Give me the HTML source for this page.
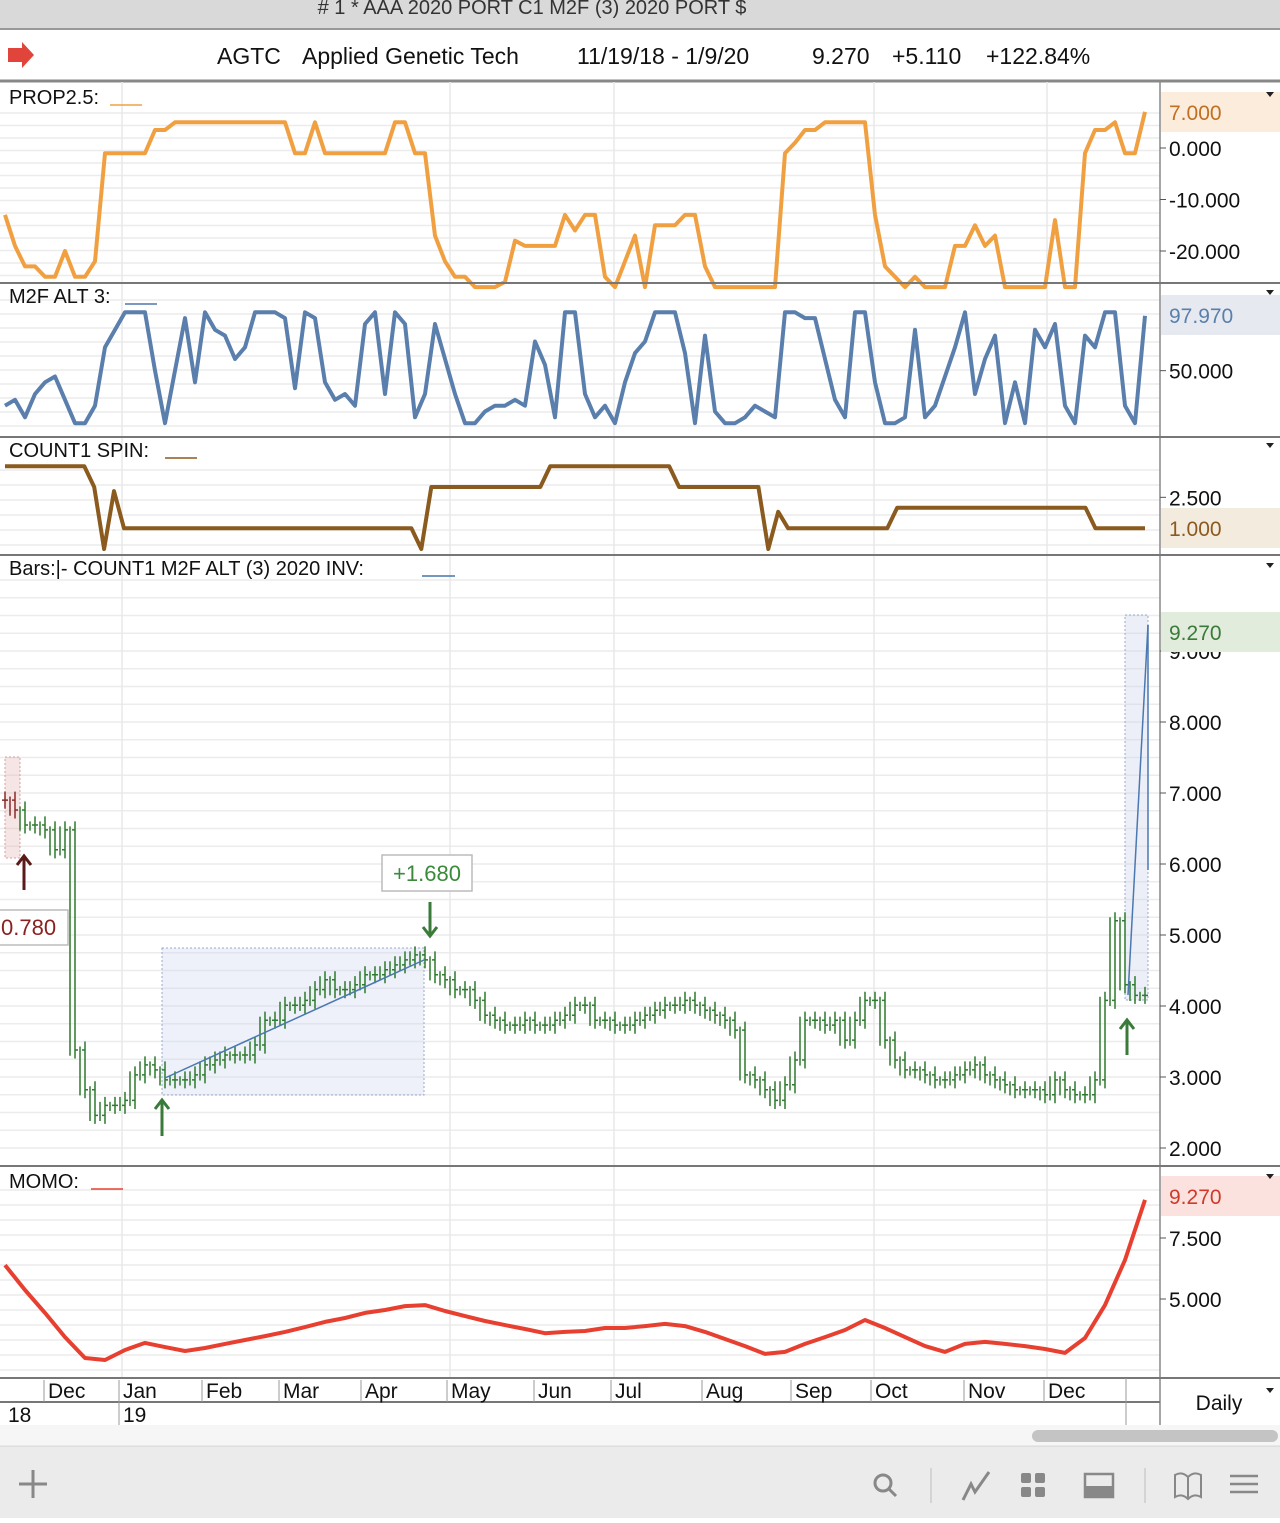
<!DOCTYPE html>
<html><head><meta charset="utf-8">
<style>
body{margin:0;width:1280px;height:1518px;overflow:hidden;background:#fff;font-family:"Liberation Sans",sans-serif;}
svg text{font-family:"Liberation Sans",sans-serif;}
</style></head>
<body>
<svg id="c" width="1280" height="1518" xmlns="http://www.w3.org/2000/svg">
<rect x="0" y="0" width="1280" height="28" fill="#d9d9d9"/>
<text x="532" y="14" font-size="20" text-anchor="middle" fill="#333"># 1 * AAA 2020 PORT C1 M2F (3) 2020 PORT $</text>
<line x1="0" y1="29" x2="1280" y2="29" stroke="#999" stroke-width="2"/>
<path d="M8 48 h14 v-6 l12 13 l-12 13 v-6 h-14z" fill="#e0443a"/>
<g font-size="23" fill="#111">
<text x="217" y="64">AGTC</text><text x="302" y="64">Applied Genetic Tech</text>
<text x="577" y="64">11/19/18 - 1/9/20</text><text x="812" y="64">9.270</text>
<text x="892" y="64">+5.110</text><text x="986" y="64">+122.84%</text></g>
<line x1="0" y1="81" x2="1280" y2="81" stroke="#888" stroke-width="3"/>
<g id="grid"></g>
<g id="marks"></g>
<line x1="1160" y1="82" x2="1160" y2="1425" stroke="#888" stroke-width="1.5"/>
<g id="panels-borders" stroke="#777" stroke-width="2">
<line x1="0" y1="283" x2="1280" y2="283"/><line x1="0" y1="437" x2="1280" y2="437"/>
<line x1="0" y1="555" x2="1280" y2="555"/><line x1="0" y1="1166" x2="1280" y2="1166"/>
<line x1="0" y1="1378" x2="1280" y2="1378"/><line x1="0" y1="1402" x2="1160" y2="1402"/>
</g>
<g font-size="20" fill="#111">
<text x="9" y="104">PROP2.5:</text>
<line x1="110" y1="105" x2="142" y2="105" stroke="#f0a040" stroke-width="1.5"/>
<text x="9" y="303">M2F ALT 3:</text>
<line x1="125" y1="304" x2="157" y2="304" stroke="#5577aa" stroke-width="1.5"/>
<text x="9" y="457">COUNT1 SPIN:</text>
<line x1="165" y1="458" x2="197" y2="458" stroke="#8b5a1e" stroke-width="1.5"/>
<text x="9" y="575">Bars:|-   COUNT1 M2F ALT (3) 2020 INV:</text>
<line x1="422" y1="576" x2="455" y2="576" stroke="#4477aa" stroke-width="1.5"/>
<text x="9" y="1188">MOMO:</text>
<line x1="91" y1="1189" x2="123" y2="1189" stroke="#e84030" stroke-width="1.5"/>
</g>
<g id="axes"></g>
<rect x="0" y="1425" width="1280" height="20" fill="#f6f6f6"/>
<rect x="1032" y="1430" width="246" height="12" rx="6" fill="#c4c4c4"/>
<rect x="0" y="1446" width="1280" height="72" fill="#ebebeb"/>
<line x1="0" y1="1446" x2="1280" y2="1446" stroke="#d0d0d0"/>
<g stroke="#888" stroke-width="3" fill="none">
<path d="M33 1470 v28 M19 1484 h28"/>
<circle cx="883" cy="1483" r="8"/><path d="M889 1489 l7 7"/>
<path d="M963 1500 l8 -16 l4 8 l14 -20"/>
<rect x="1085" y="1474" width="28" height="23" stroke-width="2.5"/>
<path d="M1175 1475 q7 -4 13 2 q6 -6 13 -2 v22 q-7 -4 -13 2 q-6 -6 -13 -2z M1188 1477 v22" stroke-width="2"/>
<path d="M1230 1476 h28 M1230 1484 h28 M1230 1492 h28" stroke-width="2.5"/>
</g>
<rect x="1086" y="1486" width="26" height="10" fill="#888"/>
<g fill="#888"><rect x="1021" y="1473" width="10" height="10" rx="2"/><rect x="1035" y="1473" width="10" height="10" rx="2"/><rect x="1021" y="1487" width="10" height="10" rx="2"/><rect x="1035" y="1487" width="10" height="10" rx="2"/></g>
<g stroke="#ccc" stroke-width="1.5"><line x1="931" y1="1468" x2="931" y2="1503"/><line x1="1145" y1="1468" x2="1145" y2="1503"/></g>
<text x="1219" y="1410" font-size="21" text-anchor="middle" fill="#111">Daily</text>
</svg>
<script>
const NS="http://www.w3.org/2000/svg";
// ---- data ----
const propVals=[-13,-19,-23,-23,-25,-25,-20,-25,-25,-22,-1,-1,-1,-1,-1,3.5,3.5,5,5,5,5,5,5,5,5,5,5,5,5,-1,-1,5,-1,-1,-1,-1,-1,-1,-1,5,5,-1,-1,-17,-22,-25,-25,-27,-27,-27,-26,-18,-19,-19,-19,-19,-13,-16,-13,-13,-25,-27,-22,-17,-27,-15,-15,-15,-13,-13,-23,-27,-27,-27,-27,-27,-27,-27,-1,1,3.5,3.5,5,5,5,5,5,-13,-23,-25,-27,-25,-27,-27,-27,-19,-19,-15,-19,-17,-27,-27,-27,-27,-27,-14,-27,-27,-1,3.5,3.5,5,-1,-1,7];
const m2fVals=[20,25,10,30,40,45,25,5,5,20,70,85,100,100,100,50,5,50,95,40,100,85,80,60,70,100,100,100,95,35,100,95,40,25,30,20,90,100,30,100,90,10,30,90,60,30,5,5,15,20,20,25,20,75,55,10,100,100,30,10,20,5,40,65,75,100,100,100,65,5,80,15,5,5,10,20,15,10,100,100,95,95,60,25,10,100,100,40,5,5,10,85,10,20,45,70,100,30,60,80,5,40,5,85,70,90,20,5,80,70,100,100,20,5,97];
const spinVals=[4,4,4,4,4,4,4,4,4,3,0,2.8,1,1,1,1,1,1,1,1,1,1,1,1,1,1,1,1,1,1,1,1,1,1,1,1,1,1,1,1,1,1,0,3,3,3,3,3,3,3,3,3,3,3,3,4,4,4,4,4,4,4,4,4,4,4,4,4,3,3,3,3,3,3,3,3,3,0,1.8,1,1,1,1,1,1,1,1,1,1,1,2,2,2,2,2,2,2,2,2,2,2,2,2,2,2,2,2,2,2,2,1,1,1,1,1,1];
const priceVals=[6.9,6.76,6.55,6.55,6.48,6.2,6.48,3.38,2.82,2.46,2.6,2.6,2.67,3.03,3.17,3.1,2.96,2.96,2.96,3.03,3.17,3.24,3.31,3.31,3.31,3.45,3.8,3.8,4.01,4.01,4.08,4.23,4.37,4.23,4.23,4.3,4.44,4.44,4.51,4.58,4.65,4.72,4.65,4.44,4.37,4.23,4.23,4.08,3.87,3.8,3.73,3.73,3.8,3.73,3.73,3.8,3.87,4.01,4.01,3.8,3.8,3.73,3.73,3.8,3.87,3.94,4.01,4.01,4.08,4.01,3.94,3.87,3.8,3.66,3.03,2.96,2.82,2.67,2.89,3.24,3.8,3.8,3.73,3.8,3.52,3.8,4.08,4.08,3.52,3.24,3.1,3.1,3.03,2.96,2.96,3.03,3.1,3.17,3.03,2.96,2.89,2.82,2.82,2.82,2.75,2.96,2.82,2.75,2.75,2.96,4.08,5.2,4.3,4.15,4.15];
const momoVals=[6.39,5.37,4.43,3.44,2.58,2.5,2.91,3.2,3.03,2.87,2.99,3.16,3.32,3.48,3.65,3.85,4.06,4.22,4.43,4.55,4.71,4.75,4.51,4.3,4.1,3.93,3.77,3.6,3.65,3.69,3.81,3.81,3.89,3.98,3.89,3.65,3.36,3.07,2.75,2.83,3.16,3.44,3.73,4.14,3.81,3.44,3.07,2.83,3.16,3.24,3.16,3.07,2.95,2.79,3.4,4.75,6.6,9.06];
const months=["Dec","Jan","Feb","Mar","Apr","May","Jun","Jul","Aug","Sep","Oct","Nov","Dec"];
const monthIdx=[4.4,11.9,20.2,27.9,36.1,44.7,53.4,61.1,70.2,79.1,87.1,96.4,104.4];
const propTicks=[0,-10,-20];
const m2fTicks=[50];
const spinTicks=[2.5];
const priceTicks=[2,3,4,5,6,7,8,9];
const momoTicks=[5,7.5];
// ---- scales ----
const X0=5,X1=1145;
const xs=(n)=>(i)=>X0+i*(X1-X0)/(n-1);
const xMonth=(i)=>X0+i*10;
const yProp=v=>148-v*5.15;
const yM2f=v=>429-v*1.167;
const ySpin=v=>549-v*20.67;
const yPrice=v=>1148-(v-2)*71;
const yMomo=v=>1299-(v-5)*24.4;
const marks=document.getElementById('marks'),grid=document.getElementById('grid'),axes=document.getElementById('axes');
function el(tag,attrs,parent){const e=document.createElementNS(NS,tag);for(const k in attrs)e.setAttribute(k,attrs[k]);parent.appendChild(e);return e;}
function line(vals,ys,color,w,name){
  const xf=xs(vals.length);
  const d=vals.map((v,i)=>(i?'L':'M')+xf(i).toFixed(1)+' '+ys(v).toFixed(1)).join(' ');
  const p=el('path',{d:d,fill:'none',stroke:color,'stroke-width':w,'stroke-linejoin':'round'},marks);
  
  
}
function hgrid(y1,y2,step){for(let y=y1;y<y2;y+=step)el('line',{x1:0,x2:1160,y1:y,y2:y,stroke:'#ececec','stroke-width':1.5},grid);}
hgrid(113,283,12.5);hgrid(300,437,14);hgrid(470,555,15);hgrid(580,1166,17.75);hgrid(1190,1378,15);
monthIdx.forEach((m,i)=>{if([1,5,7,10,12].includes(i)){const x=xMonth(m)-2;el('line',{x1:x,x2:x,y1:82,y2:1378,stroke:'#e8e8e8','stroke-width':1.5},grid);}});
function ticks(arr,ys,fmt,name){arr.forEach(v=>{const y=ys(v);
  el('line',{x1:1160,x2:1166,y1:y,y2:y,stroke:'#555'},axes);
  const t=el('text',{x:1169,y:y+8,'font-size':21,fill:'#111'},axes);t.textContent=fmt(v);
  
  });}
const f3=v=>v.toFixed(3);
ticks(propTicks,yProp,f3,'prop-y-tick');ticks(m2fTicks,yM2f,f3,'m2f-y-tick');ticks(spinTicks,ySpin,f3,'spin-y-tick');
ticks(priceTicks,yPrice,f3,'price-y-tick');ticks(momoTicks,yMomo,f3,'momo-y-tick');
line(propVals,yProp,'#f0a040',4,'prop-line');
line(m2fVals,yM2f,'#5a7fad',4,'m2f-line');
line(spinVals,ySpin,'#8b5a1e',4,'spin-line');
line(momoVals,yMomo,'#e84030',4,'momo-line');
el('rect',{x:5,y:757,width:15,height:101,fill:'rgba(230,180,180,0.35)',stroke:'#d9a0a0','stroke-dasharray':'2 2'},marks);
el('rect',{x:162,y:948,width:262,height:147,fill:'rgba(200,210,235,0.3)',stroke:'#99a8cc','stroke-dasharray':'2 2'},marks);
el('rect',{x:1125,y:615,width:23,height:385,fill:'rgba(200,210,235,0.35)',stroke:'#99a8cc','stroke-dasharray':'2 2'},marks);
(function(){const xf=xs(priceVals.length);priceVals.forEach((v,i)=>{
  const p=i?priceVals[i-1]:v,x=xf(i);const hi=Math.max(v,p)+0.12,lo=Math.min(v,p)-0.12;
  const col=i<2?'#8b2a2a':'#2e7a2e';
  const b=el('path',{d:`M${x} ${yPrice(hi)} V${yPrice(lo)} M${x-3} ${yPrice(p)} H${x} M${x} ${yPrice(v)} H${x+3}`,stroke:col,'stroke-width':1.5,fill:'none'},marks);
  
  
  if(i>0){const xm=(x+xf(i-1))/2;const b2=el('path',{d:`M${xm} ${yPrice(Math.max(v,p)+0.05)} V${yPrice(Math.min(v,p)-0.08)}`,stroke:col,'stroke-width':1.5},marks);
  
  }
});})();
el('line',{x1:165,y1:1078,x2:424,y2:960,stroke:'#4a78b0','stroke-width':1.5},marks);
el('line',{x1:1128,y1:995,x2:1148,y2:625,stroke:'#4a78b0','stroke-width':1.5},marks);
el('line',{x1:1148,y1:625,x2:1148,y2:870,stroke:'#4a78b0','stroke-width':1.5},marks);
function arrow(x,y1,y2,col,name){const up=y2<y1;const a=el('path',{d:`M${x} ${y1} V${y2} M${x-7} ${y2+(up?9:-9)} L${x} ${y2} L${x+7} ${y2+(up?9:-9)}`,stroke:col,'stroke-width':3,fill:'none'},marks);
  
  }
arrow(162,1136,1100,'#3a7a3a','buy-arrow');arrow(430,902,936,'#3a7a3a','sell-arrow');
arrow(1127,1055,1020,'#3a7a3a','buy-arrow');arrow(24,890,856,'#5a1a1a','buy-arrow');
el('rect',{x:382,y:855,width:90,height:36,fill:'#fff',stroke:'#bbb','stroke-width':1.5},marks);
let t=el('text',{x:427,y:881,'font-size':22,'text-anchor':'middle',fill:'#3a8a3a'},marks);t.textContent='+1.680';


el('rect',{x:-2,y:910,width:70,height:35,fill:'#fff',stroke:'#bbb','stroke-width':1.5},marks);
t=el('text',{x:1,y:935,'font-size':22,fill:'#8b2020'},marks);t.textContent='0.780';


monthIdx.forEach((m,i)=>{const x=xMonth(m)-5;
  el('line',{x1:x,x2:x,y1:1380,y2:1402,stroke:'#999'},axes);
  const tt=el('text',{x:x+4,y:1398,'font-size':21,fill:'#111'},axes);tt.textContent=months[i];
  
  });
[[5,'18'],[120,'19']].forEach(([x,s])=>{const tt=el('text',{x:x+3,y:1422,'font-size':21,fill:'#111'},axes);tt.textContent=s;
  
  });
el('line',{x1:119,x2:119,y1:1402,y2:1425,stroke:'#999'},axes);
el('line',{x1:1126,x2:1126,y1:1378,y2:1425,stroke:'#999'},axes);
function vbox(y,fill,col,txt,name){el('rect',{x:1161,y:y,width:119,height:40,fill:fill},axes);
  const tt=el('text',{x:1169,y:y+28,'font-size':21,fill:col},axes);tt.textContent=txt;
  
  }
vbox(92,'#fcecdc','#c07020','7.000','prop-last-value');
vbox(295,'#e6eaf0','#5a7fad','97.970','m2f-last-value');
vbox(508,'#f4ebdf','#8b5a1e','1.000','spin-last-value');
vbox(612,'#e2ecdc','#3a7a3a','9.270','price-last-value');
vbox(1176,'#fbe2df','#d03a2a','9.270','momo-last-value');
[92,290,443,563,1174,1388].forEach(y=>el('path',{d:`M1266 ${y} h8 l-4 5z`,fill:'#222'},axes));
</script>
</body></html>
